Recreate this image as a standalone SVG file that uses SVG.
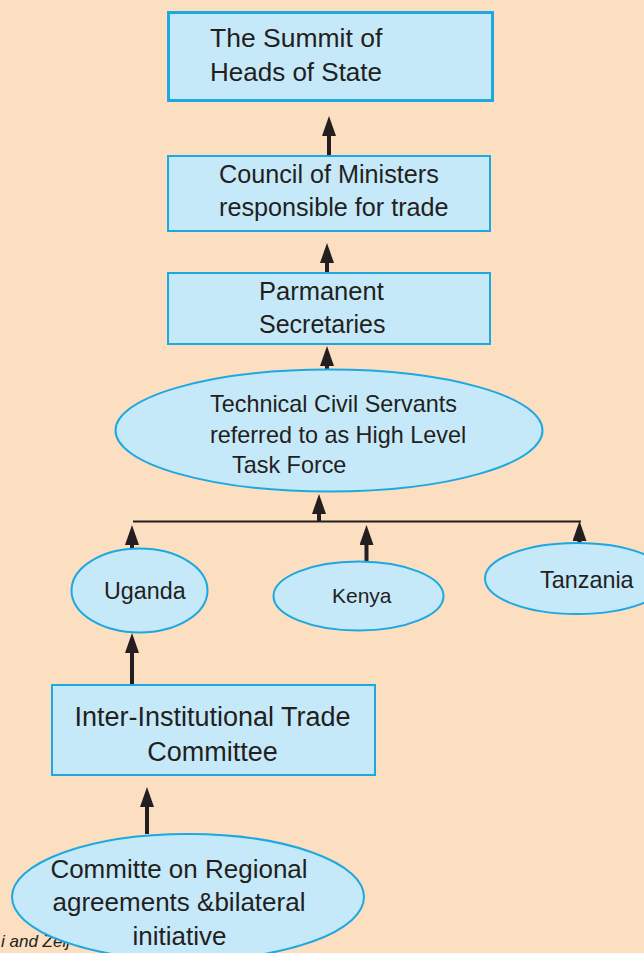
<svg xmlns="http://www.w3.org/2000/svg" width="644" height="953" viewBox="0 0 644 953">
<style>
.box{fill:#C6E9F9;stroke:#1DA8E1;stroke-width:2}
.ell{fill:#C6E9F9;stroke:#1DA8E1;stroke-width:2}
.t{font-family:"Liberation Sans",Arial,sans-serif;fill:#231F20}
.stem{stroke:#231F20;stroke-width:4;fill:none}
.hl{stroke:#231F20;stroke-width:2;fill:none}
</style>
<defs>
<marker id="ah" markerUnits="userSpaceOnUse" markerWidth="20" markerHeight="14" viewBox="0 0 20 14" refX="2" refY="7" orient="auto">
<path d="M0,0 L20,7 L0,14 z" fill="#231F20"/>
</marker>
</defs>
<rect x="0" y="0" width="644" height="953" fill="#FCDEC1"/>
<text class="t" x="1" y="947" font-size="17" font-style="italic" fill="#333">i and Zeij</text>

<g id="connectors">
<path class="stem" d="M329,155 V134" marker-end="url(#ah)"/>
<path class="stem" d="M327,273 V261" marker-end="url(#ah)"/>
<path class="stem" d="M327,369 V364" marker-end="url(#ah)"/>
<path class="hl" d="M133,521.5 H581"/>
<path class="stem" d="M319,521 V512" marker-end="url(#ah)"/>
<path class="stem" d="M132,548 V543" marker-end="url(#ah)"/>
<path class="stem" d="M366.5,561 V543" marker-end="url(#ah)"/>
<path class="stem" d="M579.5,544 V539" marker-end="url(#ah)"/>
<path class="stem" d="M132,684 V651" marker-end="url(#ah)"/>
<path class="stem" d="M147,834 V805" marker-end="url(#ah)"/>
</g>

<g id="summit">
<rect class="box" x="168.5" y="12.5" width="324" height="88" style="stroke-width:3"/>
<text class="t" x="210" y="47" font-size="26.5">The Summit of</text>
<text class="t" x="210" y="81" font-size="26">Heads of State</text>
</g>

<g id="council">
<rect class="box" x="168" y="156" width="322" height="75"/>
<text class="t" x="219" y="183" font-size="25.2">Council of Ministers</text>
<text class="t" x="219" y="216" font-size="25.2">responsible for trade</text>
</g>

<g id="permanent">
<rect class="box" x="168" y="273" width="322" height="71"/>
<text class="t" x="259" y="300" font-size="25.5">Parmanent</text>
<text class="t" x="259" y="333" font-size="25">Secretaries</text>
</g>

<g id="technical">
<ellipse class="ell" cx="329" cy="430.5" rx="213.5" ry="61"/>
<text class="t" x="210" y="412" font-size="23.4">Technical Civil Servants</text>
<text class="t" x="210" y="443" font-size="23.4">referred to as High Level</text>
<text class="t" x="232" y="473" font-size="23.4">Task Force</text>
</g>

<g id="uganda">
<ellipse class="ell" cx="139.5" cy="590.5" rx="68" ry="42"/>
<text class="t" x="104" y="599" font-size="23.3">Uganda</text>
</g>

<g id="kenya">
<ellipse class="ell" cx="358.5" cy="596" rx="85" ry="34.5"/>
<text class="t" x="332" y="603" font-size="21">Kenya</text>
</g>

<g id="tanzania">
<ellipse class="ell" cx="577" cy="578.5" rx="92" ry="35.5"/>
<text class="t" x="540" y="588" font-size="23.4">Tanzania</text>
</g>

<g id="inter-institutional">
<rect class="box" x="52" y="685" width="323" height="90"/>
<text class="t" x="212.5" y="726" font-size="27" text-anchor="middle">Inter-Institutional Trade</text>
<text class="t" x="212.5" y="761" font-size="27" text-anchor="middle">Committee</text>
</g>

<g id="committe-regional">
<ellipse class="ell" cx="188" cy="897" rx="176" ry="63"/>
<text class="t" x="179" y="878" font-size="26" text-anchor="middle">Committe on Regional</text>
<text class="t" x="179" y="911" font-size="26" text-anchor="middle">agreements &amp;bilateral</text>
<text class="t" x="179.5" y="945" font-size="26" text-anchor="middle">initiative</text>
</g>
</svg>
